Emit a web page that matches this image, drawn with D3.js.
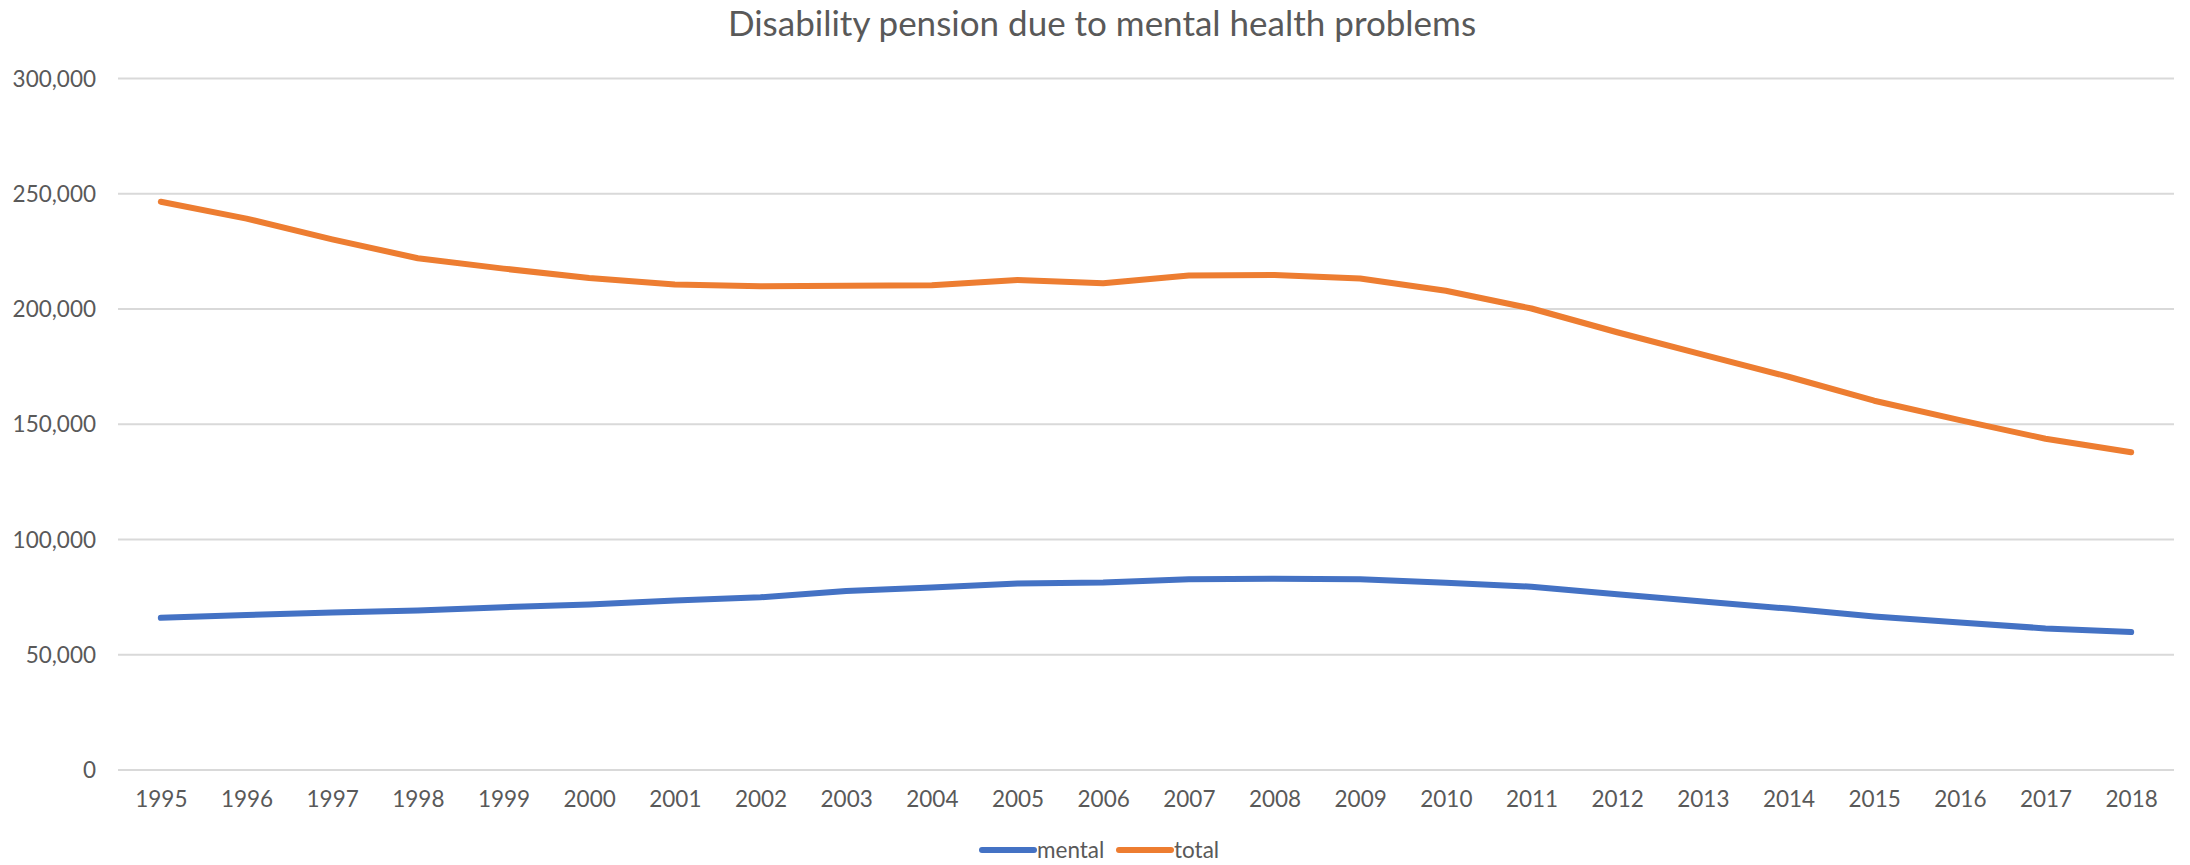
<!DOCTYPE html>
<html>
<head>
<meta charset="utf-8">
<script src="https://cdn.jsdelivr.net/npm/d3@7"></script>
<style>
  body { margin: 0; background: #fff; }
  text { font-family: Lato, "Noto Sans", sans-serif; fill: #595959; }
</style>
</head>
<body>
<div id="chart"></div>
<script>
// Data set
let years = ["1995", "1996", "1997", "1998", "1999", "2000", "2001", "2002", "2003", "2004", "2005", "2006",
  "2007", "2008", "2009", "2010", "2011", "2012", "2013", "2014", "2015", "2016", "2017", "2018"];
let mental = [65800, 67000, 68100, 69000, 70400, 71600, 73300, 74700, 77400, 79000, 80700, 81100,
  82500, 82800, 82500, 81000, 79300, 76000, 72900, 69800, 66400, 63800, 61200, 59600];
let total = [246300, 239000, 230000, 221800, 217300, 213200, 210400, 209600, 209900, 210100, 212400, 211000,
  214300, 214500, 213000, 207700, 200000, 189700, 180000, 170400, 160000, 151600, 143500, 137600];
let yTicks = [0, 50000, 100000, 150000, 200000, 250000, 300000];

let series = [
  { name: "mental", values: mental, color: "#4472C4" },
  { name: "total", values: total, color: "#ED7D31" }
];

let W = 2190, H = 865;
let plotLeft = 118, plotRight = 2174, plotTop = 78, plotBottom = 769.5;

let svg = d3.select("#chart").append("svg")
  .attr("width", W)
  .attr("height", H);

let x = d3.scalePoint().domain(years).range([plotLeft, plotRight]).padding(0.5);
let y = d3.scaleLinear().domain([0, 300000]).range([plotBottom, plotTop]);

// Title
svg.append("text")
  .attr("x", 1102)
  .attr("y", 36)
  .attr("text-anchor", "middle")
  .style("font-size", "35px")
  .text("Disability pension due to mental health problems");

// Y axis + gridlines
let yAxis = svg.append("g")
  .attr("transform", "translate(" + plotLeft + ",0)")
  .call(d3.axisLeft(y).tickValues(yTicks).tickFormat(d3.format(",")).tickSize(-(plotRight - plotLeft)).tickPadding(22));
yAxis.select(".domain").remove();
yAxis.selectAll(".tick line").attr("stroke", "#d9d9d9").attr("stroke-width", 2);
yAxis.selectAll(".tick text").style("font-size", "22.5px").attr("dy", "0.36em");

// X axis
let xAxis = svg.append("g")
  .attr("transform", "translate(0," + plotBottom + ")")
  .call(d3.axisBottom(x).tickSize(0).tickPadding(22));
xAxis.select(".domain").remove();
xAxis.selectAll(".tick text").style("font-size", "22.5px").attr("dy", "0.71em");

// Lines
let line = d3.line()
  .x(function (d, i) { return x(years[i]); })
  .y(function (d) { return y(d); });

svg.selectAll("path.series")
  .data(series)
  .enter()
  .append("path")
  .attr("class", "series")
  .attr("fill", "none")
  .attr("stroke", function (d) { return d.color; })
  .attr("stroke-width", 6)
  .attr("stroke-linecap", "round")
  .attr("stroke-linejoin", "round")
  .attr("d", function (d) { return line(d.values); });

// Legend
let legend = svg.append("g").attr("transform", "translate(982,850)");
let items = legend.selectAll("g")
  .data(series)
  .enter()
  .append("g")
  .attr("transform", function (d, i) { return "translate(" + (i * 137) + ",0)"; });
items.append("line")
  .attr("x1", 0).attr("x2", 52)
  .attr("stroke", function (d) { return d.color; })
  .attr("stroke-width", 6)
  .attr("stroke-linecap", "round");
items.append("text")
  .attr("x", 55)
  .attr("dy", "0.36em")
  .style("font-size", "22.5px")
  .text(function (d) { return d.name; });
</script>
</body>
</html>
